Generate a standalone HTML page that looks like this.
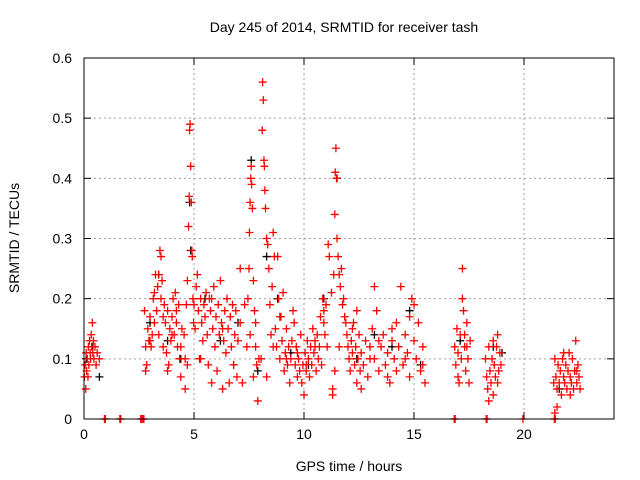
<!DOCTYPE html>
<html><head><meta charset="utf-8"><style>
body{margin:0;background:#fff;}
svg{display:block;font-family:"Liberation Sans",sans-serif;}
</style></head><body>
<svg id="chart" width="640" height="480">
<text x="344" y="32" text-anchor="middle" font-size="14">Day 245 of 2014, SRMTID for receiver tash</text>
<text x="349" y="471" text-anchor="middle" font-size="14">GPS time / hours</text>
<text transform="translate(19,238) rotate(-90)" text-anchor="middle" font-size="14">SRMTID / TECUs</text>
<g id="grid"></g>
<g id="ticks"></g>
<g id="black-series"></g>
<g id="red-series"></g>
<rect x="84" y="58" width="530" height="361" fill="none" stroke="#000" stroke-width="1"/>
</svg>
<script>
const xTicks=[0,5,10,15,20];
const yTicks=[0,0.1,0.2,0.3,0.4,0.5,0.6];
const yTickLabels=["0","0.1","0.2","0.3","0.4","0.5","0.6"];
const redHours=[0.02,0.05,0.08,0.1,0.12,0.15,0.18,0.2,0.22,0.25,0.28,0.3,0.33,0.35,0.38,0.4,0.43,0.45,0.5,0.55,0.6,0.7,
2.75,2.8,2.85,2.9,2.95,3.0,3.05,3.1,3.15,3.2,3.25,3.3,3.35,3.4,3.45,3.5,3.55,3.6,3.65,3.7,3.75,3.8,3.85,3.9,3.95,4.0,4.05,4.1,4.15,4.2,4.25,4.3,4.35,4.4,4.45,2.8,3.0,3.2,3.4,3.6,3.8,4.0,4.2,4.4,3.5,
4.6,4.65,4.7,4.75,4.78,4.8,4.82,4.85,4.88,4.9,4.92,4.95,4.98,4.6,4.7,4.55,
5.0,5.05,5.1,5.15,5.2,5.25,5.3,5.35,5.4,5.45,5.5,5.55,5.6,5.65,5.7,5.75,5.8,5.85,5.9,5.95,6.0,6.05,6.1,6.15,6.2,6.25,6.3,6.35,6.4,6.45,6.5,6.55,6.6,6.65,6.7,6.75,6.8,6.85,6.9,6.95,7.0,7.1,7.2,7.3,7.4,5.3,5.8,6.3,6.8,7.1,
7.45,7.5,7.52,7.55,7.58,7.6,7.62,7.65,7.7,7.75,7.8,7.85,7.9,7.95,7.55,7.7,7.8,
8.05,8.1,8.12,8.15,8.18,8.2,8.22,8.25,8.3,8.35,8.4,8.45,8.5,8.55,8.6,8.65,8.7,8.75,8.8,8.85,8.9,8.95,9.0,9.05,9.1,9.15,9.2,9.25,9.3,9.35,9.4,9.45,8.3,8.6,8.9,9.2,
9.5,9.55,9.6,9.65,9.7,9.75,9.8,9.85,9.9,9.95,10.0,10.05,10.1,10.15,10.2,10.25,10.3,10.35,10.4,10.45,10.5,10.55,10.6,10.65,10.7,10.75,10.8,10.85,10.9,10.95,11.0,11.05,11.1,11.15,9.7,10.1,10.5,10.9,
11.25,11.3,11.35,11.4,11.42,11.45,11.48,11.5,11.55,11.6,11.65,11.7,11.75,11.8,11.85,11.9,11.95,11.3,11.4,11.6,
12.0,12.05,12.1,12.15,12.2,12.25,12.3,12.35,12.4,12.45,12.5,12.55,12.6,12.7,12.8,12.9,13.0,13.1,13.2,13.3,13.4,13.5,13.6,13.7,13.8,13.9,14.0,14.1,14.2,14.3,14.4,14.5,14.6,14.7,14.8,14.9,15.0,15.1,15.2,15.3,15.4,15.5,12.2,12.6,13.0,13.4,13.8,14.2,14.6,15.0,15.4,12.4,13.2,14.0,14.8,
16.85,16.9,16.95,17.0,17.05,17.1,17.15,17.2,17.25,17.3,17.35,17.4,17.45,17.5,17.55,17.0,17.2,17.4,17.3,
18.25,18.3,18.35,18.4,18.45,18.5,18.55,18.6,18.65,18.7,18.75,18.8,18.85,18.9,18.95,18.4,18.6,18.8,
21.35,21.4,21.45,21.5,21.55,21.6,21.65,21.7,21.75,21.8,21.85,21.9,21.95,22.0,22.05,22.1,22.15,22.2,22.25,22.3,22.35,22.4,22.45,22.5,22.55,21.5,21.8,22.1,22.4,21.4,
0.93,0.97,1.63,1.67,2.58,2.62,2.68,2.72,16.83,16.87,18.28,18.32,19.95,21.38,21.42];
const redValues=[.07,.09,.05,.11,.08,.1,.07,.12,.09,.13,.11,.1,.14,.12,.16,.11,.13,.1,.12,.09,.11,.1,
.18,.12,.09,.15,.13,.17,.12,.14,.2,.16,.24,.18,.22,.14,.28,.2,.23,.12,.19,.16,.11,.18,.09,.15,.13,.17,.2,.14,.21,.16,.12,.19,.1,.07,.15,.08,.13,.21,.24,.17,.08,.14,.18,.12,.27,
.1,.19,.23,.32,.37,.48,.49,.42,.36,.28,.27,.2,.16,.05,.09,.14,
.19,.15,.22,.24,.18,.1,.2,.16,.13,.19,.17,.21,.14,.09,.2,.18,.06,.15,.22,.12,.17,.08,.19,.14,.23,.16,.05,.13,.18,.11,.2,.15,.06,.17,.12,.19,.09,.14,.18,.07,.13,.16,.06,.19,.12,.1,.2,.15,.09,.25,
.2,.25,.31,.36,.4,.42,.39,.35,.23,.18,.12,.09,.03,.1,.14,.07,.16,
.1,.48,.56,.53,.43,.42,.38,.35,.3,.29,.25,.19,.14,.22,.31,.27,.15,.12,.27,.2,.1,.17,.13,.21,.08,.11,.15,.09,.12,.06,.1,.13,.07,.12,.17,.1,
.18,.16,.09,.12,.07,.1,.08,.14,.06,.09,.04,.11,.08,.13,.1,.07,.12,.09,.15,.11,.13,.08,.14,.1,.12,.17,.09,.2,.18,.14,.19,.12,.29,.27,.11,.09,.12,.16,
.21,.05,.24,.34,.41,.45,.4,.3,.27,.24,.22,.25,.19,.2,.17,.16,.14,.04,.08,.12,
.12,.1,.08,.13,.11,.16,.09,.12,.06,.1,.14,.08,.11,.09,.13,.07,.12,.15,.1,.18,.08,.12,.14,.09,.11,.06,.13,.1,.08,.12,.22,.09,.14,.11,.07,.2,.13,.1,.16,.08,.12,.06,.15,.05,.1,.13,.07,.16,.1,.19,.09,.18,.22,.15,.17,
.12,.09,.15,.11,.06,.14,.1,.25,.18,.12,.08,.16,.1,.06,.13,.07,.2,.12,.14,
.1,.07,.05,.12,.08,.06,.1,.04,.09,.07,.12,.14,.08,.11,.09,.03,.13,.06,
.06,.1,.07,.05,.09,.06,.08,.04,.1,.07,.06,.09,.05,.08,.11,.07,.06,.1,.05,.08,.13,.06,.09,.07,.05,.02,.11,.04,.08,.01,
0,0,0,0,0,0,0,0,0,0,0,0,0,0,0];
const blackHours=[0.1,0.4,0.7,3.0,3.4,3.8,4.4,4.8,4.85,5.5,6.2,7.0,7.6,7.9,8.3,8.8,9.4,10.2,10.9,11.5,12.4,13.2,14.0,14.8,15.3,17.1,18.6,19.0,21.6,22.3];
const blackValues=[.1,.12,.07,.16,.24,.13,.1,.36,.28,.2,.13,.16,.43,.08,.27,.2,.11,.09,.2,.4,.1,.14,.12,.18,.09,.13,.12,.11,.05,.08];

const X0=84,X1=614,Y0=419,Y1=58,xMax=24.09,yMax=0.6;
const sx=v=>X0+(v/xMax)*(X1-X0);
const sy=v=>Y0-(v/yMax)*(Y0-Y1);
const NS="http://www.w3.org/2000/svg";
function mk(tag,attrs,parent){const e=document.createElementNS(NS,tag);for(const k in attrs)e.setAttribute(k,attrs[k]);parent.appendChild(e);return e;}
const grid=document.getElementById('grid'),ticks=document.getElementById('ticks');
xTicks.forEach(t=>{
  const x=sx(t);
  if(t>0){const g=mk('line',{x1:x,x2:x,y1:Y1,y2:Y0,stroke:'#a0a0a0','stroke-dasharray':'2,3'},grid);
  
  }
  mk('line',{x1:x,x2:x,y1:Y0,y2:Y0-7,stroke:'#000'},ticks);
  mk('line',{x1:x,x2:x,y1:Y1,y2:Y1+7,stroke:'#000'},ticks);
  const l=mk('text',{x:x,y:Y0+20,'text-anchor':'middle','font-size':'14'},ticks);
  l.textContent=t;
  
  
});
yTicks.forEach((t,i)=>{
  const y=sy(t);
  if(t>0&&t<yMax){const g=mk('line',{x1:X0,x2:X1,y1:y,y2:y,stroke:'#a0a0a0','stroke-dasharray':'2,3'},grid);
  
  }
  mk('line',{x1:X0,x2:X0+7,y1:y,y2:y,stroke:'#000'},ticks);
  mk('line',{x1:X1,x2:X1-7,y1:y,y2:y,stroke:'#000'},ticks);
  const l=mk('text',{x:X0-12,y:y+5,'text-anchor':'end','font-size':'14'},ticks);
  l.textContent=yTickLabels[i];
  
  
});
function plus(g,h,v,color,name){
  const x=sx(h),y=sy(v);
  const p=mk('path',{d:`M${x-4} ${y}H${x+4}M${x} ${y-4}V${y+4}`,stroke:color,'stroke-width':1.3,fill:'none'},g);
  
  
}
const bg=document.getElementById('black-series'),rg=document.getElementById('red-series');
blackHours.forEach((h,i)=>plus(bg,h,blackValues[i],'#000','black-point'));
redHours.forEach((h,i)=>plus(rg,h,redValues[i],'#ff0000','red-point'));
</script>
</body></html>
